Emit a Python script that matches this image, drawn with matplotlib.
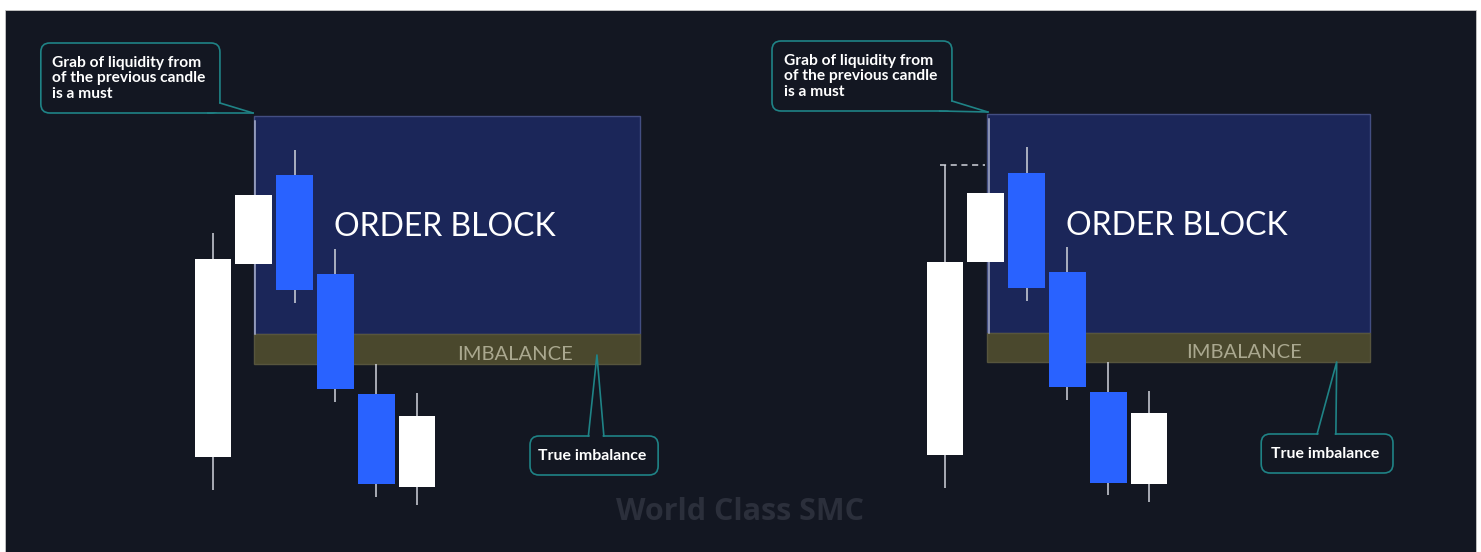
import matplotlib
matplotlib.use("Agg")
import matplotlib.pyplot as plt
from matplotlib.patches import FancyBboxPatch, Polygon, Rectangle

BG = "#131722"
OB_FILL = "#1b2659"
OB_EDGE = "#434e82"
IMB_FILL = "#4a482d"
IMB_TEXT = "#aaa88f"
TEAL = "#1f8386"
BLUE = "#2962ff"
WICK = "#d1d4dc"

# candles: open, high, low, close (arbitrary price units)
left_open = [9.5, 28.8, 37.7, 27.8, 15.8, 6.5]
left_high = [31.9, 35.7, 40.2, 30.3, 18.8, 15.9]
left_low = [6.2, 28.8, 24.9, 15.0, 5.5, 4.7]
left_close = [29.3, 35.7, 26.2, 16.3, 6.8, 13.6]

right_open = [9.7, 29.0, 37.9, 28.0, 16.0, 6.8]
right_high = [38.7, 35.9, 40.5, 30.5, 19.0, 16.1]
right_low = [6.4, 29.0, 25.1, 15.2, 5.7, 5.0]
right_close = [29.0, 35.9, 26.4, 16.5, 6.9, 13.9]

# zones: [x_start, x_end, ob_top, ob_bottom, imbalance_bottom]
left_zone = [1.0, 10.47, 43.6, 21.8, 18.8]
right_zone = [1.03, 10.42, 43.8, 21.9, 19.0]

grab_text = "Grab of liquidity from\nof the previous candle\nis a must"
true_text = "True imbalance"

W, H = 1481, 552
XLIM = (-5.098, 12.843)
YLIM = (0, 54.2)
PX_X = 40.8   # px per bar
PX_Y = 10.0   # px per price unit


def draw_candles(ax, o, h, l, c):
    xs = range(len(o))
    bottoms = [min(a, b) for a, b in zip(o, c)]
    heights = [abs(b - a) for a, b in zip(o, c)]
    colors = ["white" if b >= a else BLUE for a, b in zip(o, c)]
    ax.vlines(xs, l, h, color=WICK, lw=1.1, zorder=3)
    ax.bar(xs, heights, bottom=bottoms, width=0.9, color=colors, zorder=4)


def draw_zone(ax, zone):
    x0, x1, top, mid, bot = zone
    ax.add_patch(Rectangle((x0, mid), x1 - x0, top - mid, fc=OB_FILL,
                           ec=OB_EDGE, lw=1.0, zorder=1))
    ax.add_patch(Rectangle((x0, bot), x1 - x0, mid - bot, fc=IMB_FILL,
                           ec="#57553d", lw=1.0, zorder=1))
    ax.plot([x0 + 0.04, x0 + 0.04], [top - 0.5, mid], color="#a9b0cc",
            lw=1.1, zorder=2)
    ax.text((x0 + x1) / 2 - 0.05, (top + mid) / 2 - 0.25, "ORDER BLOCK",
            color="white", fontsize=23, family="Lato", ha="center",
            va="center", zorder=5)
    ax.text(x1 - 3.08, (mid + bot) / 2 - 0.55, "IMBALANCE", color=IMB_TEXT,
            fontsize=14.5, family="Lato", ha="center", va="center", zorder=5)


def callout_box(ax, x0, x1, y0, y1):
    r = 9 / PX_X
    ax.add_patch(FancyBboxPatch((x0, y0), x1 - x0, y1 - y0,
                                boxstyle=f"round,pad=0,rounding_size={r}",
                                mutation_aspect=PX_X / PX_Y,
                                fc=BG, ec=TEAL, lw=1.2, zorder=6))


def grab_callout(ax, box, tip, text_xy):
    x0, x1, y0, y1 = box
    callout_box(ax, x0, x1, y0, y1)
    base_y = y0 + 1.0
    ax.add_patch(Polygon([(x1 - 0.3, y0 + 0.08), (x1 - 0.05, base_y),
                          tip, (x1 - 0.3, y0 + 0.08)],
                         fc=BG, ec="none", zorder=7))
    ax.plot([x1, tip[0]], [base_y, tip[1]], color=TEAL, lw=1.2, zorder=8)
    ax.plot([x1 - 0.3, tip[0]], [y0, tip[1]], color=TEAL, lw=1.2, zorder=8)
    ax.text(text_xy[0], text_xy[1], grab_text, color="white", fontsize=11.2,
            family="Lato", weight="bold", ha="left", va="top",
            linespacing=1.13, zorder=9)


def true_callout(ax, box, base, tip):
    x0, x1, y0, y1 = box
    callout_box(ax, x0, x1, y0, y1)
    bx0, bx1 = base
    ax.add_patch(Polygon([(bx0 + 0.03, y1 - 0.1), (bx1 - 0.03, y1 - 0.1), tip],
                         fc=BG, ec="none", zorder=7))
    ax.plot([bx0, tip[0], bx1], [y1, tip[1], y1], color=TEAL, lw=1.2,
            zorder=8)
    ax.text((x0 + x1) / 2 - 0.05, (y0 + y1) / 2 - 0.1, true_text,
            color="white", fontsize=11.4, family="Lato", weight="bold",
            ha="center", va="center", zorder=9)


fig = plt.figure(figsize=(W / 100, H / 100), dpi=100, facecolor="white")
fig.patches.append(Rectangle((5 / W, 0), 1471 / W, 542 / H,
                             transform=fig.transFigure, fc=BG, ec="#c8c8c8",
                             lw=0.6, zorder=-10))

ax_l = fig.add_axes([5 / W, 0, 732 / W, 542 / H])
ax_r = fig.add_axes([737 / W, 0, 732 / W, 542 / H])

for ax in (ax_l, ax_r):
    ax.set_xlim(*XLIM)
    ax.set_ylim(*YLIM)
    ax.set_facecolor("none")
    ax.axis("off")

draw_zone(ax_l, left_zone)
draw_candles(ax_l, left_open, left_high, left_low, left_close)
grab_callout(ax_l, (-4.22, 0.17, 43.9, 50.9), (0.98, 43.9), (-3.95, 49.6))
true_callout(ax_l, (7.77, 10.91, 7.7, 11.6), (9.2, 9.58), (9.41, 19.7))

draw_zone(ax_r, right_zone)
draw_candles(ax_r, right_open, right_high, right_low, right_close)
ax_r.plot([-0.12, right_zone[0] - 0.05], [right_high[0], right_high[0]],
          color=WICK, lw=1.1, ls=(0, (4, 3)), zorder=3)
grab_callout(ax_r, (-4.24, 0.17, 44.1, 51.1), (1.05, 44.0), (-3.95, 49.8))
true_callout(ax_r, (7.75, 10.98, 7.9, 11.8), (9.12, 9.58), (9.6, 19.0))

fig.text(740 / W, (H - 512) / H, "World Class SMC", color="#2b2f3b",
         fontsize=22, family="Open Sans", weight="bold", ha="center",
         va="center", zorder=-5)

fig.savefig("out.png", dpi=100, facecolor=fig.get_facecolor())
